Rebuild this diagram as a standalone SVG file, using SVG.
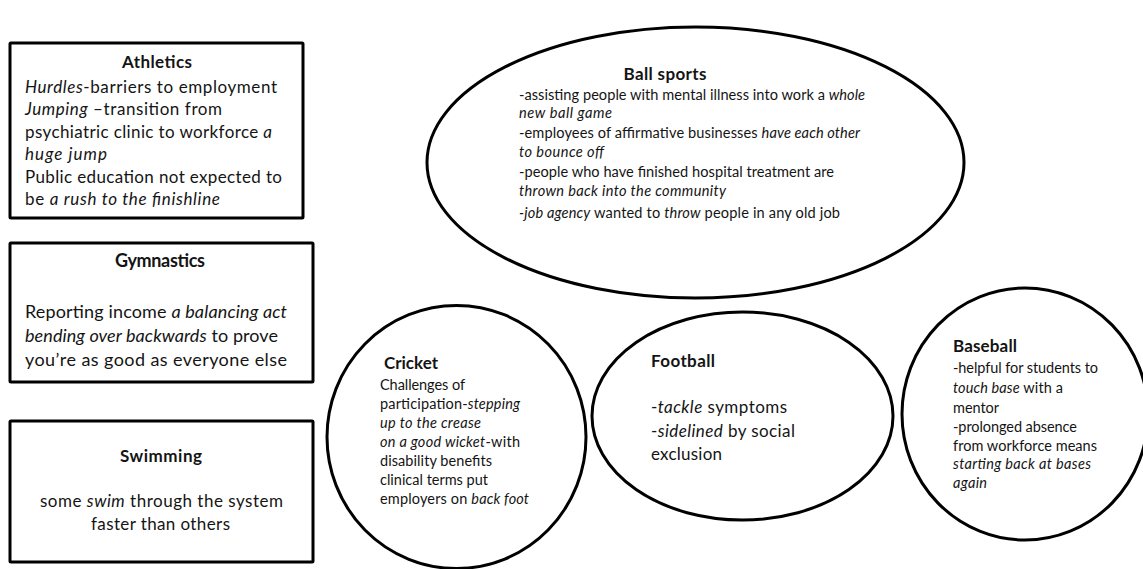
<svg xmlns="http://www.w3.org/2000/svg" width="1143" height="569" viewBox="0 0 1143 569">
<style>
.shape{fill:#fff;stroke:#000;stroke-width:3}
text{font-family:Lato,"Open Sans","Liberation Sans",sans-serif;fill:#141414}
.t{font-weight:bold}
.i{font-style:italic}
.b18{font-size:17px}
.b19{font-size:18px}
.b14{font-size:14.6px}
.b15{font-size:14.5px}
.b17{font-size:17px}
</style>
<rect width="1143" height="569" fill="#fff"/>
<g id="connectors"/>
<g id="athletics">
<rect class="shape" x="10" y="43" width="293" height="175" rx="1"/>
<g class="b18">
<text class="t" x="157" y="68" text-anchor="middle" textLength="70">Athletics</text>
<text x="25" y="93" textLength="252"><tspan class="i">Hurdles</tspan>-barriers to employment</text>
<text x="25" y="115" textLength="197"><tspan class="i">Jumping</tspan> –transition from</text>
<text x="25" y="138" textLength="247">psychiatric clinic to workforce <tspan class="i">a</tspan></text>
<text x="25" y="160" textLength="82" class="i">huge jump</text>
<text x="25" y="183" textLength="257">Public education not expected to</text>
<text x="25" y="205" textLength="195">be <tspan class="i">a rush to the finishline</tspan></text>
</g>
</g>
<g id="gymnastics">
<rect class="shape" x="10" y="243" width="303" height="139" rx="1"/>
<g class="b19">
<text class="t" x="160" y="267" text-anchor="middle" textLength="90">Gymnastics</text>
<text x="25" y="318" textLength="262">Reporting income <tspan class="i">a balancing act</tspan></text>
<text x="25" y="342" textLength="253"><tspan class="i">bending over backwards</tspan> to prove</text>
<text x="25" y="366" textLength="262">you’re as good as everyone else</text>
</g>
</g>
<g id="swimming">
<rect class="shape" x="10" y="421" width="303" height="141" rx="1"/>
<g class="b17">
<text class="t" x="161" y="462" text-anchor="middle" textLength="82">Swimming</text>
<text x="161.5" y="507" text-anchor="middle" textLength="243">some <tspan class="i">swim</tspan> through the system</text>
<text x="160.5" y="530" text-anchor="middle" textLength="139">faster than others</text>
</g>
</g>
<g id="ball-sports">
<ellipse class="shape" cx="695.5" cy="162.5" rx="268.5" ry="135.5"/>
<g class="b14">
<text class="t" x="665" y="80" text-anchor="middle" textLength="83" style="font-size:17px">Ball sports</text>
<text x="519" y="100" textLength="346">-assisting people with mental illness into work a <tspan class="i">whole</tspan></text>
<text x="519" y="118" textLength="93" class="i">new ball game</text>
<text x="519" y="138" textLength="341">-employees of affirmative businesses <tspan class="i">have each other</tspan></text>
<text x="519" y="157" textLength="85" class="i">to bounce off</text>
<text x="519" y="177" textLength="315">-people who have finished hospital treatment are</text>
<text x="519" y="196" textLength="207" class="i">thrown back into the community</text>
<text x="519" y="218" textLength="321"><tspan class="i">-job agency</tspan> wanted to <tspan class="i">throw</tspan> people in any old job</text>
</g>
</g>
<g id="cricket">
<ellipse class="shape" cx="456.5" cy="437" rx="129.5" ry="131.5"/>
<g class="b15">
<text class="t" x="384" y="369" textLength="54" style="font-size:17px">Cricket</text>
<text x="380" y="390" textLength="85">Challenges of</text>
<text x="380" y="409" textLength="140">participation-<tspan class="i">stepping</tspan></text>
<text x="380" y="428" textLength="101" class="i">up to the crease</text>
<text x="380" y="447" textLength="140"><tspan class="i">on a good wicket</tspan>-with</text>
<text x="380" y="466" textLength="112">disability benefits</text>
<text x="380" y="485" textLength="108">clinical terms put</text>
<text x="380" y="504" textLength="149">employers on <tspan class="i">back foot</tspan></text>
</g>
</g>
<g id="football">
<ellipse class="shape" cx="742.5" cy="416" rx="150.5" ry="104"/>
<g class="b17">
<text class="t" x="651" y="367" textLength="64">Football</text>
<text x="651" y="413" textLength="136">-<tspan class="i">tackle</tspan> symptoms</text>
<text x="651" y="437" textLength="144">-<tspan class="i">sidelined</tspan> by social</text>
<text x="651" y="460" textLength="71">exclusion</text>
</g>
</g>
<g id="baseball">
<ellipse class="shape" cx="1025" cy="414" rx="123" ry="126"/>
<g class="b15">
<text class="t" x="953" y="352" textLength="64" style="font-size:17px">Baseball</text>
<text x="953" y="373" textLength="145">-helpful for students to</text>
<text x="953" y="393" textLength="110"><tspan class="i">touch base</tspan> with a</text>
<text x="953" y="413" textLength="46">mentor</text>
<text x="953" y="432" textLength="124">-prolonged absence</text>
<text x="953" y="451" textLength="144">from workforce means</text>
<text x="953" y="469" textLength="138" class="i">starting back at bases</text>
<text x="953" y="488" textLength="34" class="i">again</text>
</g>
</g>
</svg>
